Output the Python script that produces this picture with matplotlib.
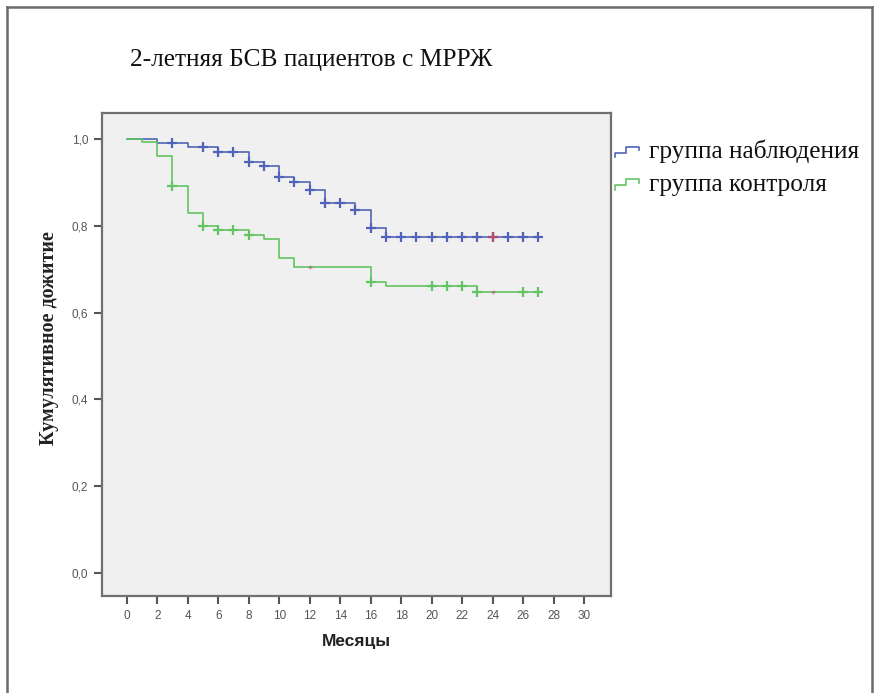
import numpy as np
import matplotlib
matplotlib.use('Agg')
import matplotlib.pyplot as plt
from matplotlib.lines import Line2D
from matplotlib.legend_handler import HandlerBase

# %% data
# observation group: step times (months) and survival after each step
obs_t = [0, 2, 4, 6, 8, 9, 10, 11, 12, 13, 15, 16, 17, 27]
obs_s = [1.0, 0.991, 0.982, 0.971, 0.948, 0.937, 0.913, 0.902, 0.882, 0.853,
         0.836, 0.796, 0.775, 0.775]
obs_cens_t = [3, 5, 6, 7, 8, 9, 10, 11, 12, 13, 14, 15, 16, 17, 18, 19, 20,
              21, 22, 23, 24, 25, 26, 27]

# control group
ctl_t = [0, 1, 2, 3, 4, 5, 6, 8, 9, 10, 11, 16, 17, 23, 27]
ctl_s = [1.0, 0.993, 0.961, 0.892, 0.830, 0.800, 0.790, 0.780, 0.770,
         0.727, 0.704, 0.670, 0.661, 0.648, 0.648]
ctl_cens_t = [3, 5, 6, 7, 8, 16, 20, 21, 22, 23, 26, 27]

# faint reddish censor marks (overlaps in the original export)
obs_red_t = [24]
ctl_red_t = [12, 24]

labels = ['группа наблюдения', 'группа контроля']
title = '2-летняя БСВ пациентов с МРРЖ'
xlabel = 'Месяцы'
ylabel = 'Кумулятивное дожитие'
xticks = np.arange(0, 31, 2)
yticks = [0.0, 0.2, 0.4, 0.6, 0.8, 1.0]

blue = '#5163b8'
green = '#62c462'
red = '#b05070'


def surv_at(times, steps_t, steps_s):
    idx = np.searchsorted(steps_t, times, side='right') - 1
    return np.array(steps_s)[idx]


class StepHandler(HandlerBase):
    # little step glyph like the SPSS legend
    def create_artists(self, legend, orig_handle, xdescent, ydescent,
                       width, height, fontsize, trans):
        w, h = width, height
        xs = [0, 0, 0.45 * w, 0.45 * w, w, w]
        ys = [0.05 * h, 0.3 * h, 0.3 * h, 0.65 * h, 0.65 * h, 0.45 * h]
        ln = Line2D(np.array(xs) - xdescent, np.array(ys) - ydescent,
                    color=orig_handle.get_color(), lw=1.2, transform=trans)
        return [ln]


# %% figure
fig = plt.figure(figsize=(8.78, 6.93), dpi=100)
fig.patch.set_facecolor('white')

# outer frame of the screenshot
for xs, ys in [([0.008, 0.008], [0.0, 0.99]), ([0.008, 0.993], [0.99, 0.99]),
               ([0.993, 0.993], [0.0, 0.99])]:
    fig.add_artist(Line2D(xs, ys, color='#6b6b6b', lw=1.8,
                          transform=fig.transFigure))

ax = fig.add_axes([102 / 878, 1 - 596 / 693, 509 / 878, 483 / 693])
ax.set_facecolor('#f0f0f0')

l1, = ax.step(obs_t, obs_s, where='post', color=blue, lw=1.2)
l2, = ax.step(ctl_t, ctl_s, where='post', color=green, lw=1.2)

ax.plot(obs_cens_t, surv_at(obs_cens_t, obs_t, obs_s), '+', color=blue,
        ms=7, mew=1.6, ls='none')
ax.plot(ctl_cens_t, surv_at(ctl_cens_t, ctl_t, ctl_s), '+', color=green,
        ms=7, mew=1.6, ls='none')
ax.plot(obs_red_t, surv_at(obs_red_t, obs_t, obs_s), '+', color=red,
        ms=7, mew=1.6, ls='none')
ax.plot(ctl_red_t, surv_at(ctl_red_t, ctl_t, ctl_s), '+', color=red,
        ms=3, mew=1.0, ls='none', alpha=0.6)

ax.set_xlim(-1.62, 31.76)
ax.set_ylim(-0.053, 1.06)
ax.set_xticks(xticks)
ax.set_yticks(yticks)
ax.set_yticklabels(['{:.1f}'.format(v).replace('.', ',') for v in yticks])

for sp in ax.spines.values():
    sp.set_color('#707070')
    sp.set_linewidth(1.6)
ax.tick_params(axis='both', direction='out', length=6, width=1.5,
               color='#555555', labelcolor='#555555', labelsize=8.5,
               pad=4)
for lab in ax.get_xticklabels() + ax.get_yticklabels():
    lab.set_family('Liberation Sans')

ax.set_xlabel(xlabel, family='Liberation Sans', fontweight='bold',
              fontsize=12.5, color='#222222', labelpad=9)
ax.set_ylabel(ylabel, family='Liberation Serif', fontweight='bold',
              fontsize=14.5, color='#222222')
ax.yaxis.set_label_coords(-0.085, 0.534)

fig.text(130 / 878, 1 - 60 / 693, title, family='Liberation Serif',
         fontsize=18.3, va='center', ha='left', color='#111111')

leg = fig.legend([l1, l2], labels, loc='upper left',
                 bbox_to_anchor=(592 / 878, 1 - 117 / 693),
                 frameon=False, handler_map={Line2D: StepHandler()},
                 prop={'family': 'Liberation Serif', 'size': 18.3},
                 handlelength=0.95, handletextpad=0.38, labelspacing=0.38)
for t in leg.get_texts():
    t.set_color('#111111')

fig.savefig('out.png', dpi=100, facecolor='white')
